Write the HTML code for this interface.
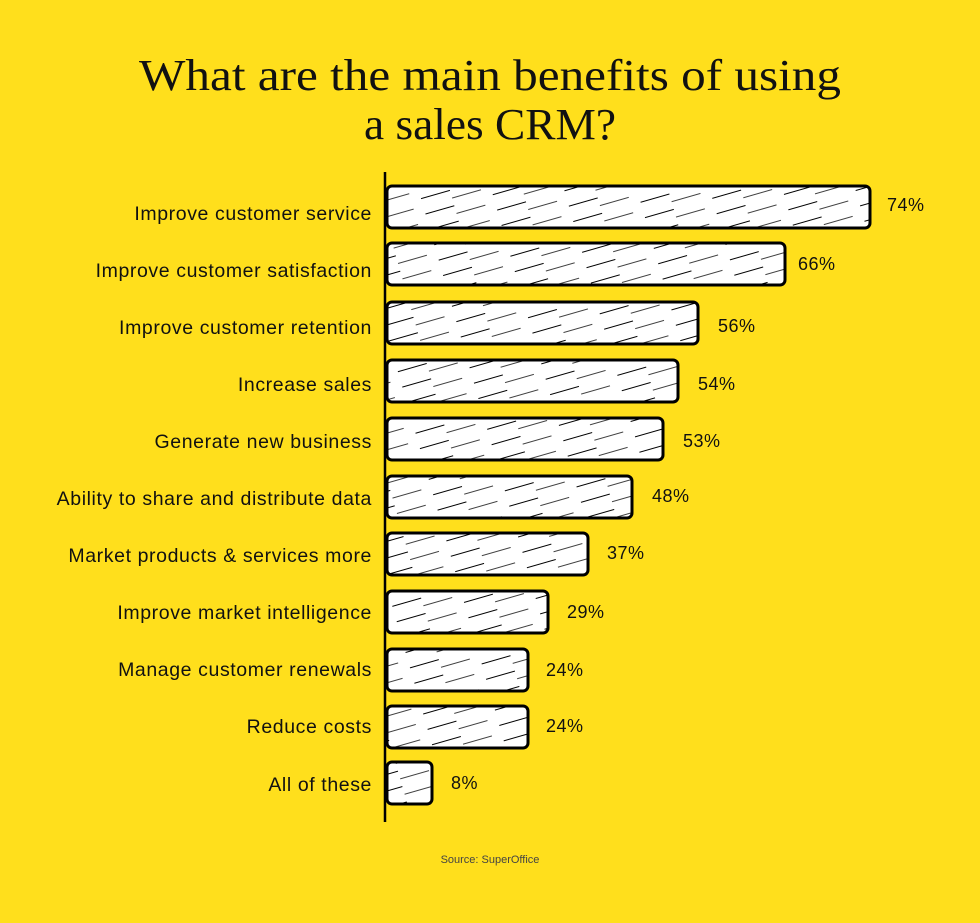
<!DOCTYPE html>
<html><head><meta charset="utf-8"><style>
body{margin:0;background:#FFDF1C;}
svg{display:block}
</style></head><body>
<svg width="980" height="923" viewBox="0 0 980 923" xmlns="http://www.w3.org/2000/svg">
<defs>
<pattern id="h" width="70" height="16" patternUnits="userSpaceOnUse" patternTransform="rotate(-16)">
<rect width="70" height="16" fill="#fff"/>
<line x1="0" y1="3" x2="30" y2="3" stroke="#000" stroke-width="1"/>
<line x1="30" y1="11" x2="60" y2="11" stroke="#000" stroke-width="0.8"/>
</pattern>
</defs>
<rect width="980" height="923" fill="#FFDF1C"/>
<g font-family="Liberation Serif, serif" font-size="44" fill="#111" text-anchor="middle">
<text x="490" y="90" textLength="702" lengthAdjust="spacingAndGlyphs">What are the main benefits of using</text>
<text x="490" y="139" textLength="252" lengthAdjust="spacingAndGlyphs">a sales CRM?</text>
</g>
<line x1="385" y1="172" x2="385" y2="822" stroke="#000" stroke-width="2.5"/>
<g stroke="#000" stroke-width="3" fill="url(#h)">
<rect x="387" y="186" width="483" height="42" rx="5"/>
<rect x="387" y="243" width="398" height="42" rx="5"/>
<rect x="387" y="302" width="311" height="42" rx="5"/>
<rect x="387" y="360" width="291" height="42" rx="5"/>
<rect x="387" y="418" width="276" height="42" rx="5"/>
<rect x="387" y="476" width="245" height="42" rx="5"/>
<rect x="387" y="533" width="201" height="42" rx="5"/>
<rect x="387" y="591" width="161" height="42" rx="5"/>
<rect x="387" y="649" width="141" height="42" rx="5"/>
<rect x="387" y="706" width="141" height="42" rx="5"/>
<rect x="387" y="762" width="45" height="42" rx="5"/>
</g>
<g font-family="Liberation Sans, sans-serif" font-size="19.5" fill="#111" text-anchor="end" letter-spacing="0.6">
<text x="372" y="220">Improve customer service</text>
<text x="372" y="277">Improve customer satisfaction</text>
<text x="372" y="334">Improve customer retention</text>
<text x="372" y="391">Increase sales</text>
<text x="372" y="448">Generate new business</text>
<text x="372" y="505">Ability to share and distribute data</text>
<text x="372" y="562">Market products &amp; services more</text>
<text x="372" y="619">Improve market intelligence</text>
<text x="372" y="676">Manage customer renewals</text>
<text x="372" y="733">Reduce costs</text>
<text x="372" y="791">All of these</text>
</g>
<g font-family="Liberation Sans, sans-serif" font-size="18" fill="#111" letter-spacing="0.5">
<text x="887" y="211">74%</text>
<text x="798" y="270">66%</text>
<text x="718" y="332">56%</text>
<text x="698" y="390">54%</text>
<text x="683" y="447">53%</text>
<text x="652" y="502">48%</text>
<text x="607" y="559">37%</text>
<text x="567" y="618">29%</text>
<text x="546" y="676">24%</text>
<text x="546" y="732">24%</text>
<text x="451" y="789">8%</text>
</g>
<text x="490" y="863" font-family="Liberation Sans, sans-serif" font-size="11" fill="#444" text-anchor="middle">Source: SuperOffice</text>
</svg>
</body></html>
